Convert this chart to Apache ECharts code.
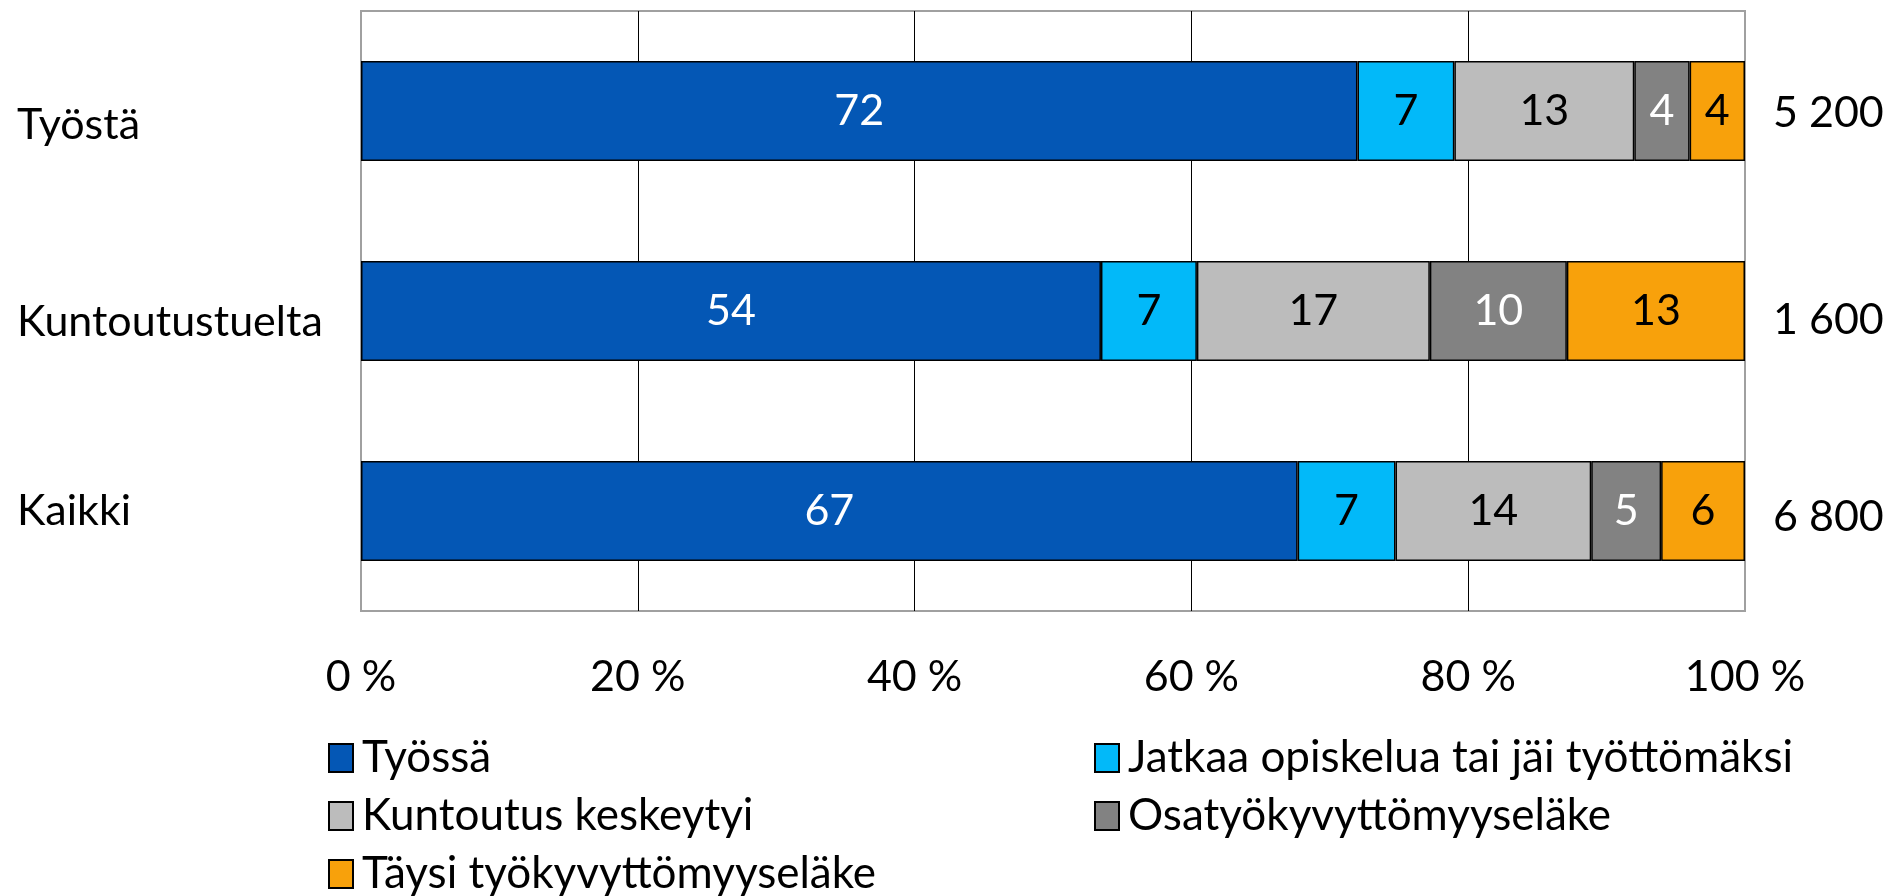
<!DOCTYPE html>
<html>
<head>
<meta charset="utf-8">
<script src="https://cdn.jsdelivr.net/npm/echarts@6/dist/echarts.min.js"></script>
<style>
  html, body { margin: 0; padding: 0; background: #fff; }
  #chart { width: 1888px; height: 896px; }
</style>
</head>
<body>
<div id="chart"></div>
<script>
// rivit ylhäältä alas
const categories = ['Työstä', 'Kuntoutustuelta', 'Kaikki']
const totals = ['5 200', '1 600', '6 800']
const seriesNames = [
  'Työssä',
  'Jatkaa opiskelua tai jäi työttömäksi',
  'Kuntoutus keskeytyi',
  'Osatyökyvyttömyyseläke',
  'Täysi työkyvyttömyyseläke'
]
const tyossa = [72, 54, 67]
const jatkaa = [7, 7, 7]
const keskeytyi = [13, 17, 14]
const osa = [4, 10, 5]
const taysi = [4, 13, 6]
const xTicks = [0, 20, 40, 60, 80, 100]

const colors = ['#0457b5', '#02b9f9', '#bcbcbc', '#828282', '#f8a10b']
const labelColors = ['#fff', '#000', '#000', '#fff', '#000']
const font = 'Lato, "Open Sans", sans-serif'
const fs = 43
// tekstien pieni pystysiirto kuten alkuperäisessä (px alaspäin)
const leftShift = [14, 11, 0]
const rightShift = [2, 9, 6]

const raw = [tyossa, jatkaa, keskeytyi, osa, taysi]
// 100 % pinottu: osuudet rivin summasta
const rowSums = categories.map((c, i) => raw.reduce((s, arr) => s + arr[i], 0))

const chart = echarts.init(document.getElementById('chart'))

const series = raw.map((arr, k) => {
  return {
    name: seriesNames[k],
    type: 'bar',
    stack: 'all',
    barWidth: 100,
    data: arr.map((v, i) => ({ value: v / rowSums[i] * 100, raw: v })),
    itemStyle: { color: colors[k], borderColor: '#000', borderWidth: 1.5 },
    label: {
      show: true,
      position: 'inside',
      color: labelColors[k],
      fontFamily: font,
      fontSize: fs,
      formatter: p => p.data.raw
    },
    emphasis: { disabled: true }
  }
})

const legendBase = {
  orient: 'vertical',
  top: 731,
  height: 200,
  itemWidth: 24,
  itemHeight: 28,
  itemGap: 14,
  icon: 'rect',
  selectedMode: false,
  textStyle: { fontFamily: font, fontSize: 44, lineHeight: 44, color: '#000', padding: [0, 0, 0, 4] },
  itemStyle: { borderColor: '#000', borderWidth: 2 }
}

// siirto alaspäin: yläreuna rivin keskelle, rivikorkeus 2 * siirto
const shifted = (list, shifts) => list.map((v, i) => ({
  value: v,
  textStyle: {
    align: 'left',
    verticalAlign: shifts[i] > 0 ? 'top' : 'middle',
    lineHeight: shifts[i] > 0 ? shifts[i] * 2 : fs,
    fontFamily: font,
    fontSize: fs,
    color: '#000'
  }
}))

chart.setOption({
  animation: false,
  grid: {
    left: 361,
    right: 143,
    top: 11,
    bottom: 285,
    outerBoundsMode: 'none',
    containLabel: false,
    show: true,
    borderColor: '#a0a0a0',
    borderWidth: 2,
    backgroundColor: 'transparent'
  },
  legend: [
    Object.assign({}, legendBase, {
      left: 323,
      data: [seriesNames[0], seriesNames[2], seriesNames[4]]
    }),
    Object.assign({}, legendBase, {
      left: 1089,
      data: [seriesNames[1], seriesNames[3]]
    })
  ],
  xAxis: {
    type: 'value',
    min: xTicks[0],
    max: xTicks[xTicks.length - 1],
    interval: 20,
    axisLine: { show: false },
    axisTick: { show: false },
    splitLine: {
      show: true,
      showMinLine: false,
      showMaxLine: false,
      lineStyle: { color: '#000', width: 1 }
    },
    axisLabel: {
      margin: 45,
      fontFamily: font,
      fontSize: fs,
      color: '#000',
      formatter: '{value} %'
    }
  },
  yAxis: [
    {
      type: 'category',
      inverse: true,
      data: shifted(categories, leftShift),
      axisLine: { show: false },
      axisTick: { show: false },
      axisLabel: {
        margin: 344,
        align: 'left',
        fontFamily: font,
        fontSize: fs,
        color: '#000'
      }
    },
    {
      type: 'category',
      inverse: true,
      position: 'right',
      data: shifted(totals, rightShift),
      axisLine: { show: false },
      axisTick: { show: false },
      axisLabel: {
        margin: 28,
        align: 'left',
        fontFamily: font,
        fontSize: fs,
        color: '#000'
      }
    }
  ],
  series: series
})
</script>
</body>
</html>
